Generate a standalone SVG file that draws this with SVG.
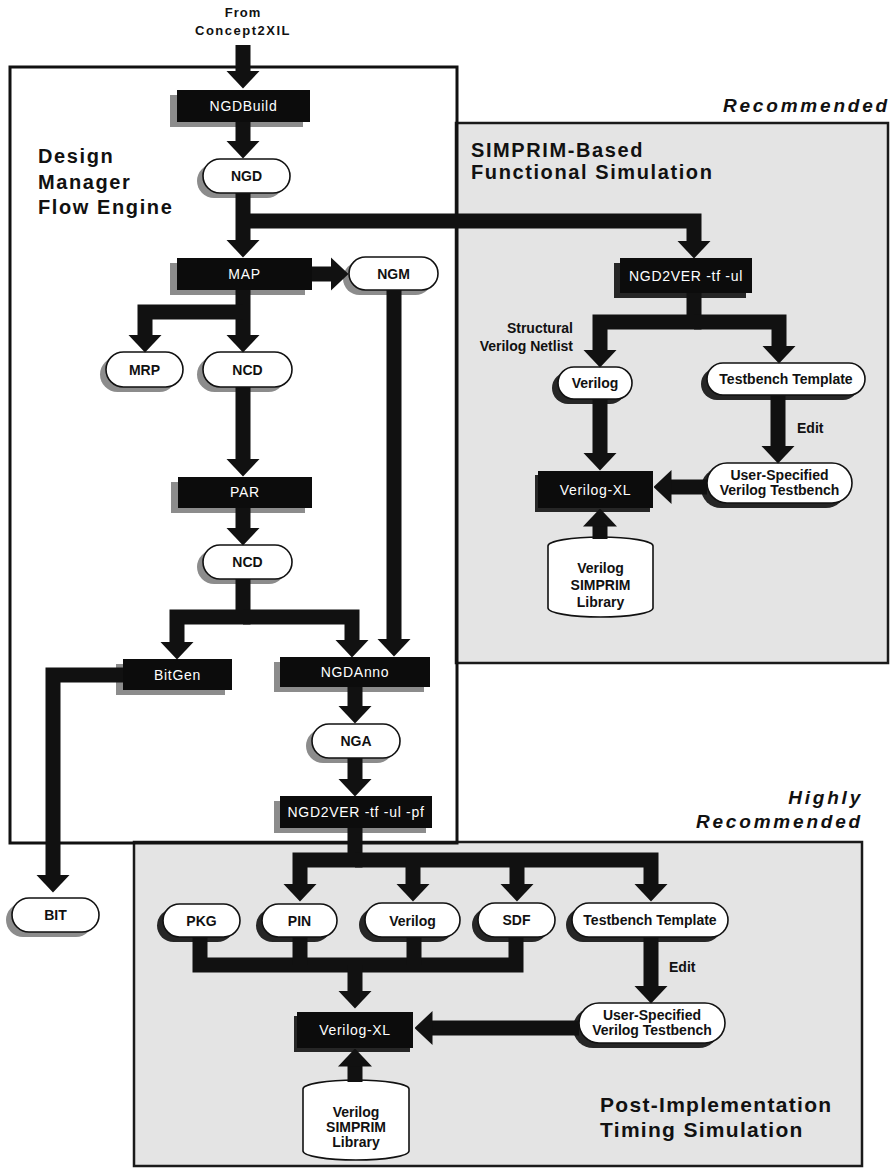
<svg xmlns="http://www.w3.org/2000/svg" width="893" height="1169" viewBox="0 0 893 1169">
<style>
.frame{fill:none;stroke:#111;stroke-width:3}
.gbox{fill:#e4e4e4;stroke:#1a1a1a;stroke-width:2.5}
.proc{fill:#0c0c0c}
.pill{fill:#fff;stroke:#111;stroke-width:1.6}
.shl{fill:#8c8c8c}
.shd{fill:#262626}
.ptxt{font-family:"Liberation Sans",Arial,sans-serif;font-weight:bold;font-size:14px;fill:#111;text-anchor:middle}
.rtxt{font-family:"Liberation Sans",Arial,sans-serif;font-size:14px;fill:#fff;text-anchor:middle;letter-spacing:0.7px}
.conn{fill:none;stroke:#111;stroke-width:15;stroke-linejoin:miter;stroke-linecap:butt}
.lbl{font-family:"Liberation Sans",Arial,sans-serif;font-weight:bold;fill:#111}
.big{font-size:20px;letter-spacing:1.6px}
.ital{font-size:19px;font-style:italic;letter-spacing:2.8px;text-anchor:end}
.small{font-size:14px}
</style>
<defs>
<marker id="ah" markerUnits="userSpaceOnUse" markerWidth="18" markerHeight="34" viewBox="0 0 18 34" refX="0.5" refY="17" orient="auto">
<path d="M0,0 L18,17 L0,34 Z" fill="#111"/>
</marker>
</defs>
<rect width="893" height="1169" fill="#fff"/>

<g id="frames">
<rect class="gbox" x="456" y="123" width="432" height="540"/>
<rect class="gbox" x="134" y="842" width="728" height="324"/>
<rect class="frame" x="10" y="67" width="447" height="776"/>
</g>

<g id="labels" class="lbl">
<text x="243" y="17" text-anchor="middle" font-size="13" letter-spacing="1">From</text>
<text x="243" y="35" text-anchor="middle" font-size="13" letter-spacing="1.5">Concept2XIL</text>
<text class="big" x="38" y="163">Design</text>
<text class="big" x="38" y="189">Manager</text>
<text class="big" x="38" y="214">Flow Engine</text>
<text class="ital" x="890" y="112">Recommended</text>
<text class="big" x="471" y="157">SIMPRIM-Based</text>
<text class="big" x="471" y="179">Functional Simulation</text>
<text class="small" x="573" y="333" text-anchor="end">Structural</text>
<text class="small" x="573" y="351" text-anchor="end">Verilog Netlist</text>
<text class="small" x="797" y="433">Edit</text>
<text class="ital" x="863" y="804">Highly</text>
<text class="ital" x="863" y="828">Recommended</text>
<text class="small" x="669" y="972">Edit</text>
<text x="600" y="1112" font-size="21" letter-spacing="1.3">Post-Implementation</text>
<text x="600" y="1137" font-size="21" letter-spacing="1.3">Timing Simulation</text>
</g>

<g id="n-ngdbuild"><rect class="shl" x="170" y="95" width="133" height="32"/><rect class="proc" x="177" y="90" width="133" height="32"/><text class="rtxt" x="243.5" y="111">NGDBuild</text></g>
<g id="n-ngd"><rect class="shl" x="197" y="164" width="87" height="34" rx="17"/><rect class="pill" x="203" y="159" width="87" height="34" rx="17"/><text class="ptxt" x="246.5" y="181">NGD</text></g>
<g id="n-map"><rect class="shl" x="170" y="263" width="135" height="32"/><rect class="proc" x="177" y="258" width="135" height="32"/><text class="rtxt" x="244.5" y="279">MAP</text></g>
<g id="n-ngm"><rect class="shl" x="343" y="262" width="89" height="33" rx="16.5"/><rect class="pill" x="349" y="257" width="89" height="33" rx="16.5"/><text class="ptxt" x="393.5" y="278.5">NGM</text></g>
<g id="n-mrp"><rect class="shl" x="100" y="357" width="77" height="35" rx="17.5"/><rect class="pill" x="106" y="352" width="77" height="35" rx="17.5"/><text class="ptxt" x="144.5" y="374.5">MRP</text></g>
<g id="n-ncd1"><rect class="shl" x="197" y="357" width="89" height="35" rx="17.5"/><rect class="pill" x="203" y="352" width="89" height="35" rx="17.5"/><text class="ptxt" x="247.5" y="374.5">NCD</text></g>
<g id="n-par"><rect class="shl" x="171" y="482" width="134" height="31"/><rect class="proc" x="178" y="477" width="134" height="31"/><text class="rtxt" x="245" y="497">PAR</text></g>
<g id="n-ncd2"><rect class="shl" x="197" y="550" width="89" height="34" rx="17"/><rect class="pill" x="203" y="545" width="89" height="34" rx="17"/><text class="ptxt" x="247.5" y="567">NCD</text></g>
<g id="n-bitgen"><rect class="shl" x="116" y="664" width="109" height="31"/><rect class="proc" x="123" y="659" width="109" height="31"/><text class="rtxt" x="177.5" y="679.5">BitGen</text></g>
<g id="n-ngdanno"><rect class="shl" x="274" y="662" width="150" height="30"/><rect class="proc" x="280" y="657" width="150" height="30"/><text class="rtxt" x="355" y="677">NGDAnno</text></g>
<g id="n-nga"><rect class="shl" x="306" y="729" width="88" height="34" rx="17"/><rect class="pill" x="312" y="724" width="88" height="34" rx="17"/><text class="ptxt" x="356" y="746">NGA</text></g>
<g id="n-ngd2ver-pf"><rect class="shl" x="274" y="801" width="152" height="32"/><rect class="proc" x="280" y="796" width="152" height="32"/><text class="rtxt" x="356" y="817">NGD2VER -tf -ul -pf</text></g>
<g id="n-bit"><rect class="shl" x="6" y="903" width="87" height="34" rx="17"/><rect class="pill" x="12" y="898" width="87" height="34" rx="17"/><text class="ptxt" x="55.5" y="920">BIT</text></g>

<g id="n-ngd2ver"><rect class="shd" x="614" y="263" width="132" height="35"/><rect class="proc" x="620" y="258" width="132" height="35"/><text class="rtxt" x="686" y="280.5">NGD2VER -tf -ul</text></g>
<g id="n-verilog1"><rect class="shd" x="552" y="372" width="74" height="32" rx="16"/><rect class="pill" x="558" y="367" width="74" height="32" rx="16"/><text class="ptxt" x="595" y="388">Verilog</text></g>
<g id="n-tbt1"><rect class="shd" x="701" y="368" width="158" height="32" rx="16"/><rect class="pill" x="707" y="363" width="158" height="32" rx="16"/><text class="ptxt" x="786" y="384">Testbench Template</text></g>
<g id="n-usr1"><rect class="shd" x="701" y="468" width="145" height="40" rx="20"/><rect class="pill" x="707" y="463" width="145" height="40" rx="20"/><text class="ptxt" x="779.5" y="480">User-Specified</text><text class="ptxt" x="779.5" y="495">Verilog Testbench</text></g>
<g id="n-vxl1"><rect class="shd" x="535" y="475" width="115" height="37"/><rect class="proc" x="538" y="471" width="115" height="37"/><text class="rtxt" x="595.5" y="494.5">Verilog-XL</text></g>
<g id="n-lib1"><path class="pill" d="M548,546 A52.5,9 0 0 1 653,546 V608 A52.5,9 0 0 1 548,608 Z"/><text class="ptxt" x="600.5" y="573">Verilog</text><text class="ptxt" x="600.5" y="590">SIMPRIM</text><text class="ptxt" x="600.5" y="607">Library</text></g>

<g id="n-pkg"><rect class="shd" x="157" y="909" width="77" height="33" rx="16.5"/><rect class="pill" x="163" y="904" width="77" height="33" rx="16.5"/><text class="ptxt" x="201.5" y="925.5">PKG</text></g>
<g id="n-pin"><rect class="shd" x="256" y="909" width="75" height="33" rx="16.5"/><rect class="pill" x="262" y="904" width="75" height="33" rx="16.5"/><text class="ptxt" x="299.5" y="925.5">PIN</text></g>
<g id="n-verilog2"><rect class="shd" x="359" y="908" width="95" height="34" rx="17"/><rect class="pill" x="365" y="903" width="95" height="34" rx="17"/><text class="ptxt" x="412.5" y="926" font-size="16.5">Verilog</text></g>
<g id="n-sdf"><rect class="shd" x="472" y="908" width="77" height="34" rx="17"/><rect class="pill" x="478" y="903" width="77" height="34" rx="17"/><text class="ptxt" x="516.5" y="925">SDF</text></g>
<g id="n-tbt2"><rect class="shd" x="566" y="908" width="156" height="34" rx="17"/><rect class="pill" x="572" y="903" width="156" height="34" rx="17"/><text class="ptxt" x="650" y="925">Testbench Template</text></g>
<g id="n-usr2"><rect class="shd" x="573" y="1008" width="146" height="40" rx="20"/><rect class="pill" x="579" y="1003" width="146" height="40" rx="20"/><text class="ptxt" x="652" y="1020">User-Specified</text><text class="ptxt" x="652" y="1035">Verilog Testbench</text></g>
<g id="n-vxl2"><rect class="shd" x="294" y="1016" width="116" height="36"/><rect class="proc" x="297" y="1012" width="116" height="36"/><text class="rtxt" x="355" y="1035">Verilog-XL</text></g>
<g id="n-lib2"><path class="pill" d="M303,1089 A53,9 0 0 1 409,1089 V1151 A53,9 0 0 1 303,1151 Z"/><text class="ptxt" x="356" y="1117">Verilog</text><text class="ptxt" x="356" y="1132">SIMPRIM</text><text class="ptxt" x="356" y="1147">Library</text></g>

<g id="connectors">
<path class="conn" d="M243,45 V71" marker-end="url(#ah)"/>
<path class="conn" d="M243,122 V141" marker-end="url(#ah)"/>
<path class="conn" d="M243,193 V240" marker-end="url(#ah)"/>
<path class="conn" d="M250,221 H694 V241" marker-end="url(#ah)"/>
<path class="conn" d="M312,274 H331" marker-end="url(#ah)"/>
<path class="conn" d="M243,290 V335" marker-end="url(#ah)"/>
<path class="conn" d="M243,312 H145 V335" marker-end="url(#ah)"/>
<path class="conn" d="M394,290 V639" marker-end="url(#ah)"/>
<path class="conn" d="M243,387 V459" marker-end="url(#ah)"/>
<path class="conn" d="M243,508 V528" marker-end="url(#ah)"/>
<path class="conn" d="M243,579 V617 H177 V642" marker-end="url(#ah)"/>
<path class="conn" d="M243,617 H352 V640" marker-end="url(#ah)"/>
<path class="conn" d="M123,675 H53 V875" marker-end="url(#ah)"/>
<path class="conn" d="M355,687 V706" marker-end="url(#ah)"/>
<path class="conn" d="M355,758 V779" marker-end="url(#ah)"/>
<path class="conn" d="M355,828 V860 H300 V884" marker-end="url(#ah)"/>
<path class="conn" d="M355,860 H651 V884" marker-end="url(#ah)"/>
<path class="conn" d="M413,860 V884" marker-end="url(#ah)"/>
<path class="conn" d="M517,860 V884" marker-end="url(#ah)"/>
<path class="conn" d="M200,937 V965 H516 V937"/>
<path class="conn" d="M300,937 V965"/>
<path class="conn" d="M414,937 V965"/>
<path class="conn" d="M355,965 V991" marker-end="url(#ah)"/>
<path class="conn" d="M651,937 V986" marker-end="url(#ah)"/>
<path class="conn" d="M579,1028 H432" marker-end="url(#ah)"/>
<path class="conn" d="M355,1082 V1066" marker-end="url(#ah)"/>
<path class="conn" d="M694,293 V322 H600 V350" marker-end="url(#ah)"/>
<path class="conn" d="M694,322 H779 V346" marker-end="url(#ah)"/>
<path class="conn" d="M600,399 V453" marker-end="url(#ah)"/>
<path class="conn" d="M778,395 V446" marker-end="url(#ah)"/>
<path class="conn" d="M707,487 H671" marker-end="url(#ah)"/>
<path class="conn" d="M600,539 V526" marker-end="url(#ah)"/>
</g>
</svg>
